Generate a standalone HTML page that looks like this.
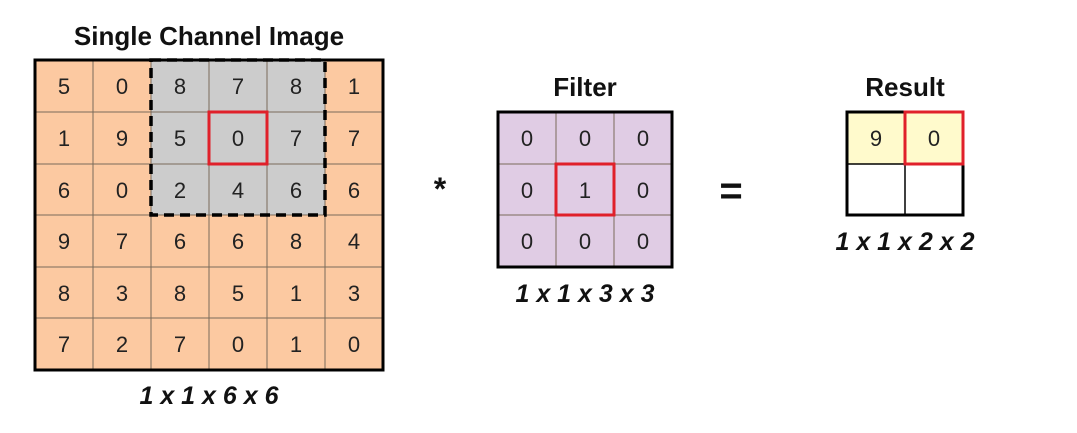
<!DOCTYPE html>
<html><head><style>body{margin:0;background:#fff}</style></head><body>
<svg width="1077" height="428" xmlns="http://www.w3.org/2000/svg" font-family="Liberation Sans, sans-serif">
<rect width="1077" height="428" fill="#fff"/>
<g id="img">
<rect x="35" y="60" width="348" height="310" fill="#fcc9a1"/>
<rect x="151" y="60" width="174" height="155" fill="#cccccc"/>
<g stroke="#7a6a5a" stroke-width="1">
<line x1="93" y1="60" x2="93" y2="370"/><line x1="151" y1="60" x2="151" y2="370"/><line x1="209" y1="60" x2="209" y2="370"/><line x1="267" y1="60" x2="267" y2="370"/><line x1="325" y1="60" x2="325" y2="370"/>
<line x1="35" y1="112" x2="383" y2="112"/><line x1="35" y1="164" x2="383" y2="164"/><line x1="35" y1="215" x2="383" y2="215"/><line x1="35" y1="267" x2="383" y2="267"/><line x1="35" y1="318" x2="383" y2="318"/>
</g>
<rect x="151" y="60" width="174" height="155" fill="none" stroke="#000" stroke-width="3.5" stroke-dasharray="10,6"/>
<rect x="35" y="60" width="348" height="310" fill="none" stroke="#000" stroke-width="3"/>
<rect x="209" y="112" width="58" height="52" fill="none" stroke="#e0202a" stroke-width="3"/>
<g font-size="22" fill="#222" text-anchor="middle">
<text x="64" y="94">5</text><text x="122" y="94">0</text><text x="180" y="94">8</text><text x="238" y="94">7</text><text x="296" y="94">8</text><text x="354" y="94">1</text>
<text x="64" y="146">1</text><text x="122" y="146">9</text><text x="180" y="146">5</text><text x="238" y="146">0</text><text x="296" y="146">7</text><text x="354" y="146">7</text>
<text x="64" y="198">6</text><text x="122" y="198">0</text><text x="180" y="198">2</text><text x="238" y="198">4</text><text x="296" y="198">6</text><text x="354" y="198">6</text>
<text x="64" y="249">9</text><text x="122" y="249">7</text><text x="180" y="249">6</text><text x="238" y="249">6</text><text x="296" y="249">8</text><text x="354" y="249">4</text>
<text x="64" y="301">8</text><text x="122" y="301">3</text><text x="180" y="301">8</text><text x="238" y="301">5</text><text x="296" y="301">1</text><text x="354" y="301">3</text>
<text x="64" y="352">7</text><text x="122" y="352">2</text><text x="180" y="352">7</text><text x="238" y="352">0</text><text x="296" y="352">1</text><text x="354" y="352">0</text>
</g>
</g>
<rect x="498" y="112" width="174" height="155" fill="#e0cce4"/>
<g stroke="#7a6a5a" stroke-width="1">
<line x1="556" y1="112" x2="556" y2="267"/><line x1="614" y1="112" x2="614" y2="267"/>
<line x1="498" y1="164" x2="672" y2="164"/><line x1="498" y1="215" x2="672" y2="215"/>
</g>
<rect x="498" y="112" width="174" height="155" fill="none" stroke="#000" stroke-width="3"/>
<rect x="556" y="164" width="58" height="51" fill="none" stroke="#e0202a" stroke-width="3"/>
<g font-size="22" fill="#222" text-anchor="middle">
<text x="527" y="146">0</text><text x="585" y="146">0</text><text x="643" y="146">0</text>
<text x="527" y="198">0</text><text x="585" y="198">1</text><text x="643" y="198">0</text>
<text x="527" y="249">0</text><text x="585" y="249">0</text><text x="643" y="249">0</text>
</g>
<rect x="847" y="112" width="116" height="52" fill="#fffacc"/>
<g stroke="#000" stroke-width="1.5"><line x1="905" y1="112" x2="905" y2="215"/><line x1="847" y1="164" x2="963" y2="164"/></g>
<rect x="847" y="112" width="116" height="103" fill="none" stroke="#000" stroke-width="3"/>
<rect x="905" y="112" width="58" height="52" fill="none" stroke="#e0202a" stroke-width="3"/>
<g font-size="22" fill="#222" text-anchor="middle"><text x="876" y="146">9</text><text x="934" y="146">0</text></g>
<g font-weight="bold" font-size="26" fill="#111" text-anchor="middle">
<text x="209" y="45">Single Channel Image</text>
<text x="585" y="96">Filter</text>
<text x="905" y="96">Result</text>
<text x="440" y="200" font-size="32">*</text>
<text x="731" y="204" font-size="40">=</text>
</g>
<g font-weight="bold" font-style="italic" font-size="25" fill="#111" text-anchor="middle">
<text x="209" y="404">1 x 1 x 6 x 6</text>
<text x="585" y="302">1 x 1 x 3 x 3</text>
<text x="905" y="250">1 x 1 x 2 x 2</text>
</g>
</svg>
</body></html>
